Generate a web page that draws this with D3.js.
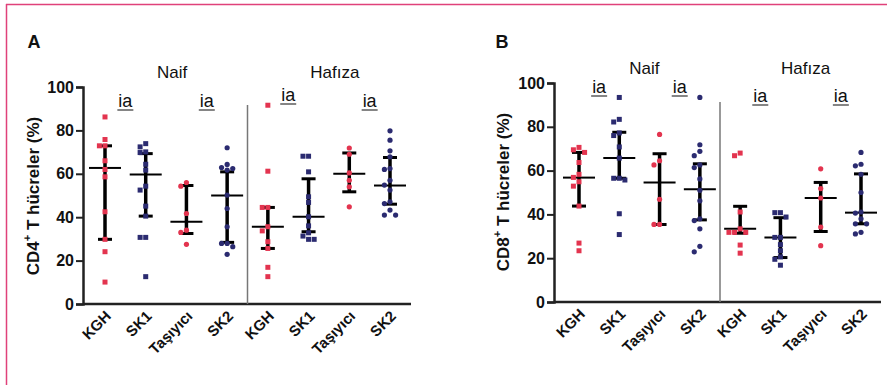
<!DOCTYPE html>
<html>
<head>
<meta charset="utf-8">
<script src="https://cdn.jsdelivr.net/npm/d3@7"></script>
<style>
body { margin: 0; background: #fff; }
svg { display: block; }
text { font-family: "Liberation Sans", Arial, sans-serif; fill: #111; }
</style>
</head>
<body>
<svg id="chart" width="887" height="385"></svg>
<script>
// categories + group labels
var categories = ["KGH", "SK1", "Taşıyıcı", "SK2", "KGH", "SK1", "Taşıyıcı", "SK2"];
var groupLabels = ["Naif", "Hafıza"];
var yTicks = [0, 20, 40, 60, 80, 100];
var sigLabel = "ia";

// CD4+ (panel A)
var cd4Values = [
	[86.2, 75.8, 72.9, 72.9, 66, 62, 58.6, 42.5, 29.8, 24.1, 10.1],
	[73.9, 72.4, 70.1, 69.8, 64.4, 61.7, 54.3, 52.5, 45.1, 40.5, 30.7, 30.7, 12.6],
	[56, 54.3, 41.7, 34, 33, 27.5],
	[72, 64.3, 62.9, 62.4, 61.7, 50.2, 44, 35.6, 27.9, 27.9, 26.4, 22.9],
	[91.6, 61.2, 44.5, 44.5, 35.6, 33.7, 28.7, 25.6, 16.9, 12.6],
	[68.1, 68.1, 60.9, 49.4, 46.8, 40.2, 36, 32.8, 31.3, 29.8, 29.8],
	[71.9, 69, 60.4, 57, 54, 44.8],
	[79.8, 75.5, 70.6, 67.8, 62.4, 62, 57, 54.8, 52.5, 47.1, 46.3, 43.3, 41, 41]
];
var cd4Median = [62.7, 59.7, 37.9, 50, 35.6, 40.2, 60, 54.6];
var cd4Q1 = [29.8, 40.5, 32.5, 28.4, 25.6, 33.3, 51.7, 46];
var cd4Q3 = [72.9, 69.3, 54.6, 60.9, 44.5, 57.7, 69.6, 67.5];

// CD8+ (panel B)
var cd8Values = [
	[70.6, 69.5, 68.3, 63.7, 58.3, 56.9, 54.9, 52.9, 43.8, 26.9, 23.4],
	[93.4, 83.4, 82.2, 77.2, 76, 70.8, 65.7, 56.5, 56.5, 55.7, 40.3, 30.8],
	[76.5, 64.5, 62.6, 46.9, 35.4, 35.4],
	[93.4, 71.8, 68.8, 66.8, 62.6, 61.4, 56.2, 51, 46.2, 38, 37.2, 33.4, 25.4, 22.9],
	[68, 66.8, 41.1, 33.4, 31.8, 31.8, 31.8, 26, 22.3],
	[40.8, 40.8, 38.8, 29.5, 29.5, 26.2, 23.4, 20.6, 19.5, 16.8],
	[60.8, 51.8, 47.5, 34.2, 25.7],
	[68.3, 62.9, 62.2, 58.3, 50, 41.1, 40.6, 38, 35.7, 35.7, 31.8, 31.1]
];
var cd8Median = [56.8, 65.7, 54.6, 51.5, 33.4, 29.5, 47.5, 40.8];
var cd8Q1 = [43.8, 56.5, 35.4, 37.5, 31.4, 20.3, 32.2, 35.7];
var cd8Q3 = [68.3, 77.5, 67.7, 63.1, 43.7, 38.5, 54.6, 58.5];

var RED = "#e3344f",
	NAVY = "#2b2b70";

var svg = d3.select("#chart");

// pink frame (top + left only)
svg.append("line").attr("x1", 6).attr("x2", 887).attr("y1", 4.5).attr("y2", 4.5)
	.attr("stroke", "#e0417a").attr("stroke-width", 1.5);
svg.append("line").attr("x1", 6.5).attr("x2", 6.5).attr("y1", 4).attr("y2", 385)
	.attr("stroke", "#e0417a").attr("stroke-width", 1.5);

// simple beeswarm so overlapping points step sideways
function swarm(vals, y, d) {
	var placed = [];
	return vals.map(function(v) {
		var py = y(v), off = 0;
		var cands = [0, -d, d, -2 * d, 2 * d, -3 * d, 3 * d];
		for (var c = 0; c < cands.length; c++) {
			var ok = placed.every(function(p) {
				return Math.abs(p.dx - cands[c]) >= d || Math.abs(p.y - py) >= d;
			});
			if (ok) { off = cands[c]; break; }
		}
		var p = {v: v, y: py, dx: off};
		placed.push(p);
		return p;
	});
}

function drawPanel(cfg) {
	var g = svg.append("g");

	var y = d3.scaleLinear().domain([0, 100]).range([cfg.yBottom, cfg.yTop]);
	var x = d3.scalePoint().domain(d3.range(categories.length)).range([cfg.xFirst, cfg.xLast]);

	// y axis
	var yAxis = g.append("g")
		.attr("transform", "translate(" + cfg.axisX + ",0)")
		.call(d3.axisLeft(y).tickValues(yTicks).tickSize(7).tickPadding(2));
	yAxis.select(".domain").attr("stroke", "#222").attr("stroke-width", 2.5);
	yAxis.selectAll(".tick line").attr("stroke", "#222").attr("stroke-width", 2);
	yAxis.selectAll(".tick text")
		.attr("font-family", "Liberation Sans, Arial, sans-serif")
		.attr("font-size", 16).attr("font-weight", "bold").attr("fill", "#222");

	// x axis line
	g.append("line")
		.attr("x1", cfg.axisX).attr("x2", cfg.axisEnd)
		.attr("y1", cfg.yBottom).attr("y2", cfg.yBottom)
		.attr("stroke", "#222").attr("stroke-width", 2.5);

	// divider between Naif and Hafıza
	var divX = (x(3) + x(4)) / 2;
	g.append("line")
		.attr("x1", divX).attr("x2", divX)
		.attr("y1", cfg.divTop).attr("y2", cfg.yBottom)
		.attr("stroke", "#777").attr("stroke-width", 1.5);

	// x labels, rotated -45
	categories.forEach(function(c, i) {
		var ex = x(i) + 7, ey = cfg.yBottom + 13;
		g.append("text")
			.attr("transform", "translate(" + ex + "," + ey + ") rotate(-45)")
			.attr("text-anchor", "end")
			.attr("font-size", 15).attr("font-weight", "bold").attr("fill", "#222")
			.text(c);
	});

	// y title
	var t = g.append("text")
		.attr("transform", "translate(" + cfg.titleX + "," + cfg.titleY + ") rotate(-90)")
		.attr("text-anchor", "middle")
		.attr("font-size", 17).attr("font-weight", "bold").attr("fill", "#222");
	t.append("tspan").text(cfg.titleA);
	t.append("tspan").attr("font-size", 11).attr("dy", -8).text("+");
	t.append("tspan").attr("dy", 8).text(cfg.titleB);

	// panel letter
	g.append("text").attr("x", cfg.letterX).attr("y", cfg.letterY)
		.attr("font-size", 18).attr("font-weight", "bold").attr("text-anchor", "middle")
		.text(cfg.letter);

	// group labels
	[[0, 3], [4, 7]].forEach(function(r, k) {
		g.append("text")
			.attr("x", (x(r[0]) + x(r[1])) / 2 + cfg.groupShift[k])
			.attr("y", cfg.groupY)
			.attr("text-anchor", "middle").attr("font-size", 17).attr("fill", "#333")
			.text(groupLabels[k]);
	});

	// "ia" marks between pairs
	cfg.sigPairs.forEach(function(pr, k) {
		var cx = (x(pr[0]) + x(pr[1])) / 2;
		var sy = cfg.sigY[k];
		g.append("text").attr("x", cx).attr("y", sy)
			.attr("text-anchor", "middle").attr("font-size", 18).attr("fill", "#333")
			.text(sigLabel);
		g.append("line").attr("x1", cx - 8).attr("x2", cx + 8)
			.attr("y1", sy + 3).attr("y2", sy + 3)
			.attr("stroke", "#333").attr("stroke-width", 1.2);
	});

	// median + IQR bars
	cfg.values.forEach(function(vals, i) {
		var cx = x(i);
		var bars = g.append("g");
		bars.append("line").attr("x1", cx).attr("x2", cx)
			.attr("y1", y(cfg.q3[i])).attr("y2", y(cfg.q1[i]))
			.attr("stroke", "#000").attr("stroke-width", 3.5);
		[cfg.q1[i], cfg.q3[i]].forEach(function(q) {
			bars.append("line").attr("x1", cx - 7).attr("x2", cx + 7)
				.attr("y1", y(q)).attr("y2", y(q))
				.attr("stroke", "#000").attr("stroke-width", 3);
		});
		bars.append("line").attr("x1", cx - 16).attr("x2", cx + 16)
			.attr("y1", y(cfg.median[i])).attr("y2", y(cfg.median[i]))
			.attr("stroke", "#000").attr("stroke-width", 2);
	});

	// points
	cfg.values.forEach(function(vals, i) {
		var cx = x(i);
		var col = (i % 2 === 0) ? RED : NAVY;
		var square = (i % 4 < 2);
		var pts = swarm(vals, y, 5.6);
		if (square) {
			g.selectAll(null).data(pts).enter().append("rect")
				.attr("x", function(d) { return cx + d.dx - 2.5; })
				.attr("y", function(d) { return d.y - 2.5; })
				.attr("width", 5).attr("height", 5)
				.attr("fill", col);
		} else {
			g.selectAll(null).data(pts).enter().append("circle")
				.attr("cx", function(d) { return cx + d.dx; })
				.attr("cy", function(d) { return d.y; })
				.attr("r", 2.6)
				.attr("fill", col);
		}
	});
}

drawPanel({
	letter: "A", letterX: 34, letterY: 48,
	axisX: 83, axisEnd: 411, yTop: 87, yBottom: 304,
	xFirst: 105, xLast: 390, divTop: 105,
	titleX: 39, titleY: 196, titleA: "CD4", titleB: " T hücreler (%)",
	groupY: 78, groupShift: [6, 6],
	sigPairs: [[0, 1], [2, 3], [4, 5], [6, 7]], sigY: [107, 107, 101, 107],
	values: cd4Values, median: cd4Median, q1: cd4Q1, q3: cd4Q3
});

drawPanel({
	letter: "B", letterX: 502, letterY: 48,
	axisX: 554, axisEnd: 881, yTop: 83, yBottom: 302,
	xFirst: 579, xLast: 861, divTop: 102,
	titleX: 509, titleY: 192, titleA: "CD8", titleB: " T hücreler (%)",
	groupY: 74, groupShift: [5, 5],
	sigPairs: [[0, 1], [2, 3], [4, 5], [6, 7]], sigY: [93, 93, 102, 102],
	values: cd8Values, median: cd8Median, q1: cd8Q1, q3: cd8Q3
});
</script>
</body>
</html>
